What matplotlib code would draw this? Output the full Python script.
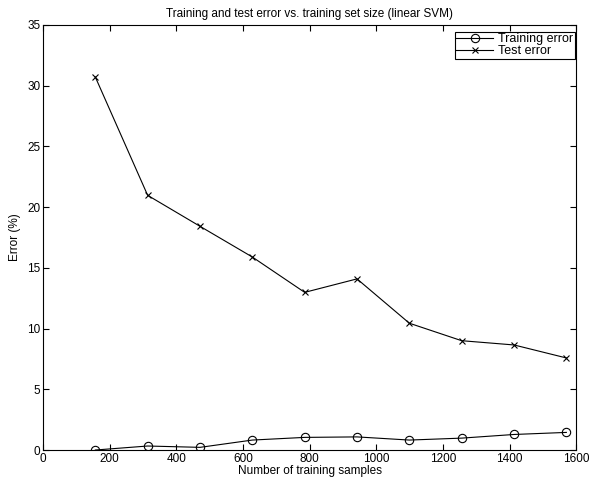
import matplotlib
matplotlib.use("Agg")
import matplotlib.pyplot as plt

plt.rcParams['font.family'] = ['Liberation Sans', 'DejaVu Sans']
plt.rcParams['font.size'] = 8.5

# data
n_samples = [157, 314, 471, 628, 785, 942, 1099, 1256, 1413, 1570]
train_err = [0.0, 0.33, 0.22, 0.82, 1.04, 1.08, 0.82, 0.98, 1.28, 1.45]
test_err = [30.71, 20.97, 18.42, 15.89, 12.98, 14.09, 10.44, 9.0, 8.65, 7.58]

x_ticks = [0, 200, 400, 600, 800, 1000, 1200, 1400, 1600]
y_ticks = [0, 5, 10, 15, 20, 25, 30, 35]

fig = plt.figure(figsize=(5.92, 4.79), dpi=100)
ax = fig.add_axes([0.0726, 0.0605, 0.901, 0.8875])

ax.plot(n_samples, train_err, color='black', lw=0.8, marker='o',
        markersize=6, markerfacecolor='none', markeredgewidth=0.8,
        label='Training error')
ax.plot(n_samples, test_err, color='black', lw=0.8, marker='x',
        markersize=4.5, markeredgewidth=0.8, label='Test error')

ax.set_xlim(0, 1600)
ax.set_ylim(0, 35)
ax.set_xticks(x_ticks)
ax.set_yticks(y_ticks)
ax.tick_params(direction='in', top=True, right=True, length=4, width=0.8,
               labelsize=8.5, pad=2)
for s in ax.spines.values():
    s.set_linewidth(0.8)

ax.set_xlabel('Number of training samples', fontsize=8.5, labelpad=0)
ax.set_ylabel('Error (%)', fontsize=8.5, labelpad=4)
ax.set_title('Training and test error vs. training set size (linear SVM)',
             fontsize=8.5, pad=6)

leg = ax.legend(loc='upper right', bbox_to_anchor=(0.997, 0.983),
                fancybox=False, framealpha=1, edgecolor='black', fontsize=9,
                handlelength=3.0, borderaxespad=0, borderpad=0.1,
                labelspacing=0.0, handletextpad=0.4)
leg.get_frame().set_linewidth(0.8)

fig.savefig('out.png', dpi=100)
